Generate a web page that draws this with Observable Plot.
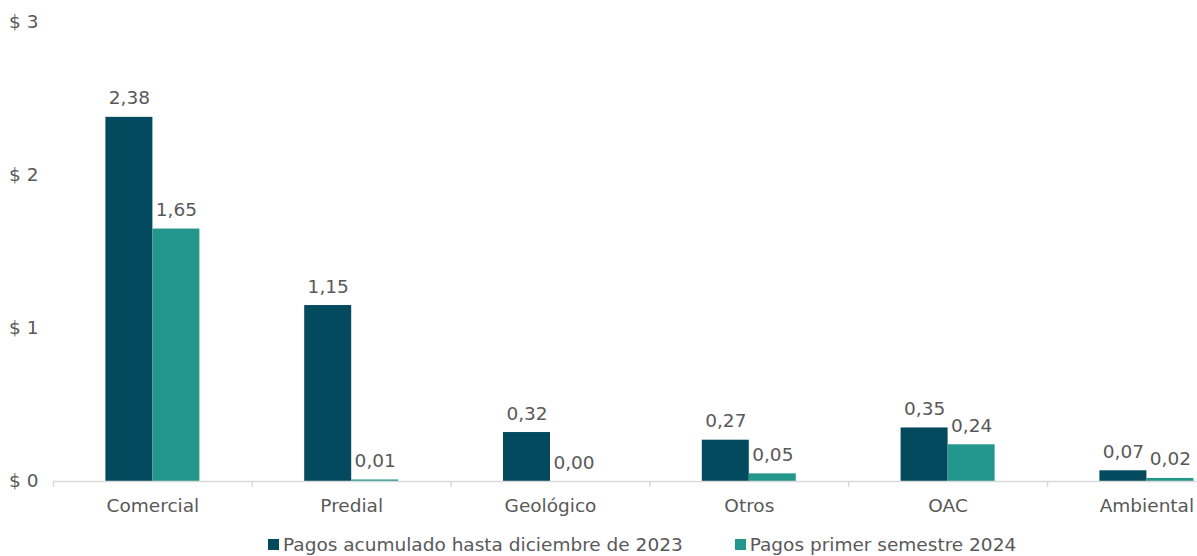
<!DOCTYPE html>
<html>
<head>
<meta charset="utf-8">
<script src="https://cdn.jsdelivr.net/npm/d3@7"></script>
<script src="https://cdn.jsdelivr.net/npm/@observablehq/plot@0.6"></script>
<style>
  html, body { margin: 0; padding: 0; background: #fff; overflow: hidden; }
  #chart { width: 1197px; }
  .legend { display: flex; justify-content: flex-start; font-family: "DejaVu Sans", sans-serif; font-size: 18.5px; color: #595959; margin-left: 268px; margin-top: 14px; }
  .legend .item { display: flex; align-items: center; margin-right: 52px; }
  .legend .sw { width: 11px; height: 11px; margin-right: 4px; }
</style>
</head>
<body>
<div id="chart"></div>
<script>
const categories = ["Comercial", "Predial", "Geológico", "Otros", "OAC", "Ambiental"];
const pagos2023 = [2.38, 1.15, 0.32, 0.27, 0.35, 0.07];
const pagos2024 = [1.65, 0.01, 0.00, 0.05, 0.24, 0.02];
const seriesNames = ["Pagos acumulado hasta diciembre de 2023", "Pagos primer semestre 2024"];
const seriesColors = ["#034A5E", "#23978B"];
const yTicks = [0, 1, 2, 3];

const dataA = categories.map((c, i) => ({category: c, value: pagos2023[i]}));
const dataB = categories.map((c, i) => ({category: c, value: pagos2024[i]}));
const fmt = v => v.toFixed(2).replace(".", ",");

const font = "DejaVu Sans, sans-serif";
const fs = 18.5;
const W = 1197, H = 520;
const left = 53, step = 198.8;
const barW = 47;
const pad = 1 - 2 * barW / step;

const plot = Plot.plot({
  width: W,
  height: H,
  marginTop: 22,
  marginBottom: H - 481,
  marginLeft: left,
  marginRight: 0,
  style: {fontFamily: font, fontSize: fs + "px", color: "#595959", background: "#fff"},
  x: {domain: categories, range: [left, left + step * categories.length], paddingInner: pad, paddingOuter: pad / 2, round: false, axis: null, label: null},
  y: {domain: [0, 3], axis: null, label: null},
  marks: [
    Plot.barY(dataA, {x: "category", y: "value", fill: seriesColors[0], insetRight: barW}),
    Plot.barY(dataB, {x: "category", y: "value", fill: seriesColors[1], insetLeft: barW}),
    Plot.ruleY([0], {stroke: "#D9D9D9", strokeWidth: 1.5}),
    Plot.ruleX(categories, {x: d => d, dx: -step / 2, y1: 0, y2: -0.04, stroke: "#D9D9D9", strokeWidth: 1.5}),
    Plot.text(dataA, {x: "category", y: "value", text: d => fmt(d.value), dx: -barW / 2, dy: -13, lineAnchor: "bottom", fill: "#595959", fontSize: fs}),
    Plot.text(dataB, {x: "category", y: "value", text: d => fmt(d.value), dx: barW / 2, dy: -13, lineAnchor: "bottom", fill: "#595959", fontSize: fs}),
    Plot.axisX({domain: categories, tickSize: 0, tickPadding: 17, fontSize: fs, fill: "#595959", anchor: "bottom", label: null}),
    Plot.axisY({ticks: yTicks, tickSize: 0, tickPadding: 15, tickFormat: d => "$ " + d, fontSize: fs, fill: "#595959", anchor: "left", label: null})
  ]
});
document.getElementById("chart").appendChild(plot);

const legend = document.createElement("div");
legend.className = "legend";
seriesNames.forEach((n, i) => {
  const item = document.createElement("div");
  item.className = "item";
  const sw = document.createElement("span");
  sw.className = "sw";
  sw.style.background = seriesColors[i];
  const t = document.createElement("span");
  t.textContent = n;
  item.appendChild(sw);
  item.appendChild(t);
  legend.appendChild(item);
});
document.getElementById("chart").appendChild(legend);
</script>
</body>
</html>
